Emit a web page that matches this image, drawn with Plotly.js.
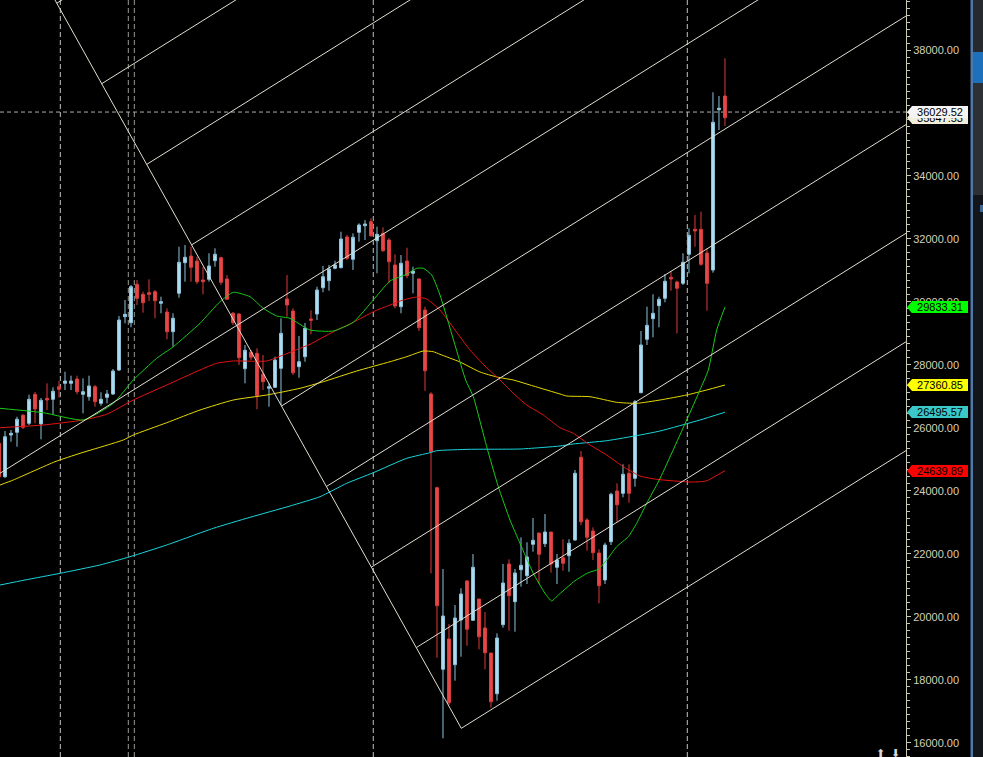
<!DOCTYPE html>
<html><head><meta charset="utf-8">
<script src="https://cdn.plot.ly/plotly-3.0.1.min.js"></script>
<style>html,body{margin:0;padding:0;background:#000;overflow:hidden}#chart{width:983px;height:757px}</style>
</head><body><div id="chart"></div>
<script>
// ---- candles ----
const openP  = [25509,24448,25772,25858,26398,26144,27065,26122,26938,26906,27306,27414,27414,27551,27065,26989,27306,26779,26970,27075,
27837,29530,29339,30558,30241,30292,30324,29955,29679,29053,30273,31245,31457,31299,30695,30717,31308,31403,30727,29638,
29615,27878,28399,28367,27700,27256,27287,27891,30092,29711,27942,28259,29457,29615,30451,30673,31067,31086,32061,31353,
32210,32420,32547,31943,32178,31966,31172,29847,31299,30908,30727,29742,27075,24099,18331,19293,18477,19897,21135,19887,
20564,19643,18849,17556,19748,21675,20478,21494,21304,22301,22660,22320,22692,21571,21875,21939,22438,25064,23073,22723,
22025,21167,22384,23994,23921,24556,24397,27116,28812,29466,29879,30114,30781,30632,30590,31511,32305,32305,31553,31013,
36104,36539];
const highP  = [25614,25899,25931,26354,26439,27052,27138,26948,27414,27287,27487,27783,27656,27656,27573,27656,27360,27129,27202,27869,
29552,30060,30536,30695,30324,30717,30378,30165,29796,29638,31753,31807,31753,31435,31118,31543,31702,31435,30854,29679,
29647,28631,28472,28526,28313,27414,28259,29479,30854,29796,28917,29330,29733,30482,31140,31172,31308,32229,32124,32178,
32496,32601,32655,32388,32369,32020,31511,31489,31721,31118,30749,29847,27129,24131,21517,19770,20373,20904,21167,21993,
20564,20151,18849,19474,21675,21825,21517,22523,22365,23136,22660,23263,22692,21993,22460,22460,24661,25264,23127,22841,
22142,22352,23940,24238,24842,24842,26884,29075,29847,30241,30165,30886,30981,30673,31543,32337,32760,32864,31702,36657,
36539,37736];
const lowP   = [24407,24407,25560,25401,25963,26090,26144,25636,26566,26408,26957,27202,27202,27065,26462,26862,26671,26703,26779,27043,
27805,29320,29193,29901,29657,30028,29479,29638,28812,28577,30133,30641,30641,30568,30241,30641,31118,30536,30060,29266,
27996,27414,28154,26589,27202,26671,27266,26725,29530,27678,27592,28100,28971,29425,30305,30355,31035,31067,31330,31013,
31912,31966,32070,30908,31594,30590,29796,29638,30749,30273,29075,27179,21380,18699,16140,17197,17969,18731,19081,19874,
18966,18331,17111,17334,19652,19557,19525,20954,21040,22066,21040,22215,21399,21040,21462,21430,22415,22904,22098,21802,
20427,21040,22279,23019,23794,23622,24131,27097,28631,28875,29193,29987,30355,29002,30536,30908,31753,31149,29720,30927,
35459,35586];
const closeP = [24448,25718,25826,26271,26017,26906,26598,26874,26884,27160,27224,27487,27487,27148,27148,27329,26830,26906,27075,27805,
29425,29606,30482,30114,29974,30241,30038,30006,29053,29479,31257,31416,31099,30641,30641,31140,31511,30622,30082,29339,
28227,28462,28240,27021,27465,27306,28154,29002,29901,27751,28100,29161,29415,30378,30800,31045,31172,31997,31384,32051,
32442,32474,32102,32147,31626,31276,29869,31226,30832,30981,29180,27815,25242,20351,20024,17270,19960,20723,19601,21571,
19366,18858,17302,19325,21072,20669,21390,21634,21898,22428,21983,22692,21675,21802,21698,22333,24556,23019,22523,22034,
20986,22279,23889,23559,24524,23921,26830,28631,29256,29638,30082,30654,30727,30432,31257,32115,32251,31194,30590,35704,
36148,35847.53];
const bars = openP.map((_, i) => i);

// ---- moving averages (sampled along each curve) ----
const greenK = [0.17,7.38,14.05,19.05,22.38,26.28,29.05,33.5,36.83,39.05,41.83,44.05,46.28,48.5,51.83,55.72,59.05,62.38,65.17,67.95,69.62,70.72,72.12,73.5,77.78,79.05,81.28,83.22,85.17,86.83,89.05,91,92.12,93.05,96,98.22,99.88,101.28,102.95,104.88,106.28,107.95,110.05,114.62,116.83,118.22,119.62,121];
const greenV = [26620,26481,26249,26779,27519,28208,28577,29320,30006,30305,30165,29796,29552,29479,29107,29075,29352,30060,30663,30876,31067,31067,30854,30219,27519,26989,25401,24130,23073,22333,21380,20745,20500,20659,21145,21399,21507,21802,22225,22542,22968,23603,24343,26249,27202,27837,29107,29833.31];
const redK = [0.17,7.38,14.05,17.95,22.38,27.95,33.5,36.28,39.05,44.62,47.38,50.17,51.83,55.72,59.05,62.38,65.17,67.38,69.62,71.28,73.5,76,78.5,81,83.5,85.72,87.95,90.72,93.5,95.72,98.5,101.28,104.05,106.83,109.62,115.17,117.83,121];
const redV = [26004,26090,26249,26430,26884,27360,27837,28050,28123,28123,28313,28526,28653,29053,29352,29688,29901,30060,30155,30092,29742,29107,28472,27964,27519,27097,26725,26408,26004,25826,25455,25137,24766,24470,24365,24280,24311,24639.89];
const yellowK = [0.17,2.38,9.33,13.5,16.83,20.72,22.38,27.95,33.5,39.05,44.62,50.17,54.05,59.62,65.17,67.95,70.72,72.38,73.5,76.83,80.17,83,85.72,89.05,93.5,94.62,98.5,102.95,106.28,110.17,114.62,117.95,121];
const yellowV = [24184,24343,24924,25191,25382,25614,25772,26163,26566,26884,27043,27256,27465,27805,28100,28259,28440,28418,28335,28091,27773,27614,27519,27329,27075,27011,26989,26811,26779,26884,27043,27202,27360.85];
const cyanK = [0.17,4.33,10.17,16.83,21.83,27.95,35.72,41.83,48.5,53.5,57.95,62.38,67.95,71.83,72.95,78.5,86.83,93.5,95.72,101.28,106.83,110.17,116.83,121];
const cyanV = [21008,21167,21380,21644,21907,22279,22809,23158,23517,23813,24238,24575,25032,25210,25274,25318,25328,25423,25487,25591,25772,25899,26249,26495.57];

// ---- pitchfork-style parallel lines ----
const forkStartK = [9.63,17.12,24.62,32.1,39.6,47.08,54.57,62.07,69.55,77.05];
const forkStartP = [39486,36930,34367,31810,29250,26693,24137,21577,19021,16457];
const forkSlope = 119;      // price per bar
const forkMedian = 4;       // this line also runs to the left edge
const forkEndK = 153;

// ---- axis / markers ----
const priceTicks = [16000,18000,20000,22000,24000,26000,28000,30000,32000,34000,36000,38000];
const priceTickText = priceTicks.map(v => v.toFixed(2));
const sessionBreaks = [10.22,21.55,22.55,62.38,114.72];
const sessionColors = ['#c4c4c4','#9c9c94','#9c9c94','#c4c4c4','#c4c4c4'];
const bidPrice = 36029.52;
const tagValues = [35847.53, 36029.52, 29833.31, 27360.85, 26495.57, 24639.89];
const tagColors = ['#f2eedc', '#f4f4f4', '#00ff00', '#ffff00', '#3cc8c8', '#ff0000'];

// ---- traces ----
const traces = [];
const maLine = (k, v, color) => ({type:'scatter', mode:'lines', x:k, y:v, hoverinfo:'skip',
  line:{color:color, width:1, shape:'spline', smoothing:0.5}});
traces.push(maLine(cyanK, cyanV, '#1ad6dc'));
traces.push(maLine(yellowK, yellowV, '#e6da00'));
traces.push(maLine(redK, redV, '#e41414'));
traces.push(maLine(greenK, greenV, '#18cc18'));

traces.push({type:'candlestick', x:bars, open:openP, high:highP, low:lowP, close:closeP,
  increasing:{line:{color:'#8cc4dc', width:1}, fillcolor:'#b0dcee'},
  decreasing:{line:{color:'#dc3c3c', width:1}, fillcolor:'#e44a4a'},
  whiskerwidth:0, hoverinfo:'skip'});

const fx = [], fy = [];
const n = forkStartK.length;
const diagSlope = (forkStartP[0] - forkStartP[n-1]) / (forkStartK[0] - forkStartK[n-1]);
fx.push(forkStartK[n-1], 5, null);
fy.push(forkStartP[n-1], forkStartP[n-1] + diagSlope * (5 - forkStartK[n-1]), null);
for (let i = 0; i < n; i++) {
  const k0 = (i === forkMedian) ? -2 : forkStartK[i];
  const p0 = forkStartP[i] + forkSlope * (k0 - forkStartK[i]);
  fx.push(k0, forkEndK, null);
  fy.push(p0, forkStartP[i] + forkSlope * (forkEndK - forkStartK[i]), null);
}
traces.push({type:'scatter', mode:'lines', x:fx, y:fy, hoverinfo:'skip',
  line:{color:'#e2ded0', width:1}});

// ---- shapes ----
const W = 906, H = 757;
const px = v => v / W, py = v => 1 - v / H;
const shapes = [];
sessionBreaks.forEach((k, i) => shapes.push({type:'line', layer:'below', xref:'x', yref:'paper',
  x0:k, x1:k, y0:0, y1:1, line:{color:sessionColors[i], width:1, dash:'5px,3px'}}));
shapes.push({type:'line', layer:'below', xref:'paper', yref:'y', x0:0, x1:1, y0:bidPrice, y1:bidPrice,
  line:{color:'#acacac', width:1, dash:'4px,3px'}});
// right frame / scrollbar
shapes.push({type:'rect', xref:'paper', yref:'paper', x0:px(970.5), x1:px(973), y0:0, y1:1, line:{width:0}, fillcolor:'#4f78a8'});
shapes.push({type:'rect', xref:'paper', yref:'paper', x0:px(973), x1:px(984), y0:py(0), y1:py(52), line:{width:0}, fillcolor:'#26292d'});
shapes.push({type:'rect', xref:'paper', yref:'paper', x0:px(973), x1:px(984), y0:py(52), y1:py(83), line:{width:0}, fillcolor:'#1c70bc'});
shapes.push({type:'rect', xref:'paper', yref:'paper', x0:px(973), x1:px(984), y0:py(83), y1:py(195), line:{width:0}, fillcolor:'#2d3034'});
shapes.push({type:'rect', xref:'paper', yref:'paper', x0:px(973), x1:px(984), y0:py(195), y1:py(757), line:{width:0}, fillcolor:'#12161a'});
shapes.push({type:'rect', xref:'paper', yref:'paper', x0:px(980), x1:px(983), y0:py(205), y1:py(212), line:{width:0}, fillcolor:'#3a6a9a'});
// tag pointers
tagValues.forEach((v, i) => shapes.push({type:'path', layer:'above', xref:'paper', yref:'y',
  xsizemode:'pixel', ysizemode:'pixel', xanchor:1, yanchor:v,
  path:'M1,0 L6,6 L6,-6 Z', fillcolor:tagColors[i], line:{width:0}}));

// ---- annotations ----
const annotations = tagValues.map((v, i) => ({xref:'paper', yref:'y', x:1, y:v, xshift:6,
  xanchor:'left', yanchor:'middle', showarrow:false, text:v.toFixed(2),
  width:56, height:12, align:'center', valign:'middle', borderpad:0, borderwidth:0,
  bgcolor:tagColors[i], font:{family:'Liberation Sans, Arial, sans-serif', size:11, color:'#000'}}));
annotations.push({xref:'paper', yref:'paper', x:px(880), y:py(757), xanchor:'center', yanchor:'bottom',
  showarrow:false, text:'⬆', yshift:-5, font:{family:'DejaVu Sans', size:11, color:'#d8d8d8'}});
annotations.push({xref:'paper', yref:'paper', x:px(895), y:py(757), xanchor:'center', yanchor:'bottom',
  showarrow:false, text:'⬇', yshift:-5, font:{family:'DejaVu Sans', size:11, color:'#d8d8d8'}});

const layout = {
  width:983, height:757,
  margin:{l:0, r:77, t:0, b:0, pad:0},
  paper_bgcolor:'#000', plot_bgcolor:'#000',
  showlegend:false, dragmode:false, hovermode:false,
  xaxis:{range:[0.167, 151.17], visible:false, showgrid:false, zeroline:false, fixedrange:true,
    rangeslider:{visible:false}},
  yaxis:{range:[15546, 39588], side:'right', showgrid:false, zeroline:false, fixedrange:true,
    showline:true, linecolor:'#c8c8b4', linewidth:1,
    ticks:'outside', ticklen:4, tickcolor:'#c8c8b4', tickwidth:1,
    tickmode:'array', tickvals:priceTicks, ticktext:priceTickText,
    tickfont:{family:'Liberation Sans, Arial, sans-serif', size:11, color:'#d4d0b8'},
    minor:{tickmode:'linear', tick0:16000, dtick:2000/9, ticks:'outside', ticklen:3, tickcolor:'#c8c8b4', showgrid:false}},
  shapes:shapes,
  annotations:annotations
};

Plotly.newPlot('chart', traces, layout, {displayModeBar:false, staticPlot:true});
</script>
</body></html>
